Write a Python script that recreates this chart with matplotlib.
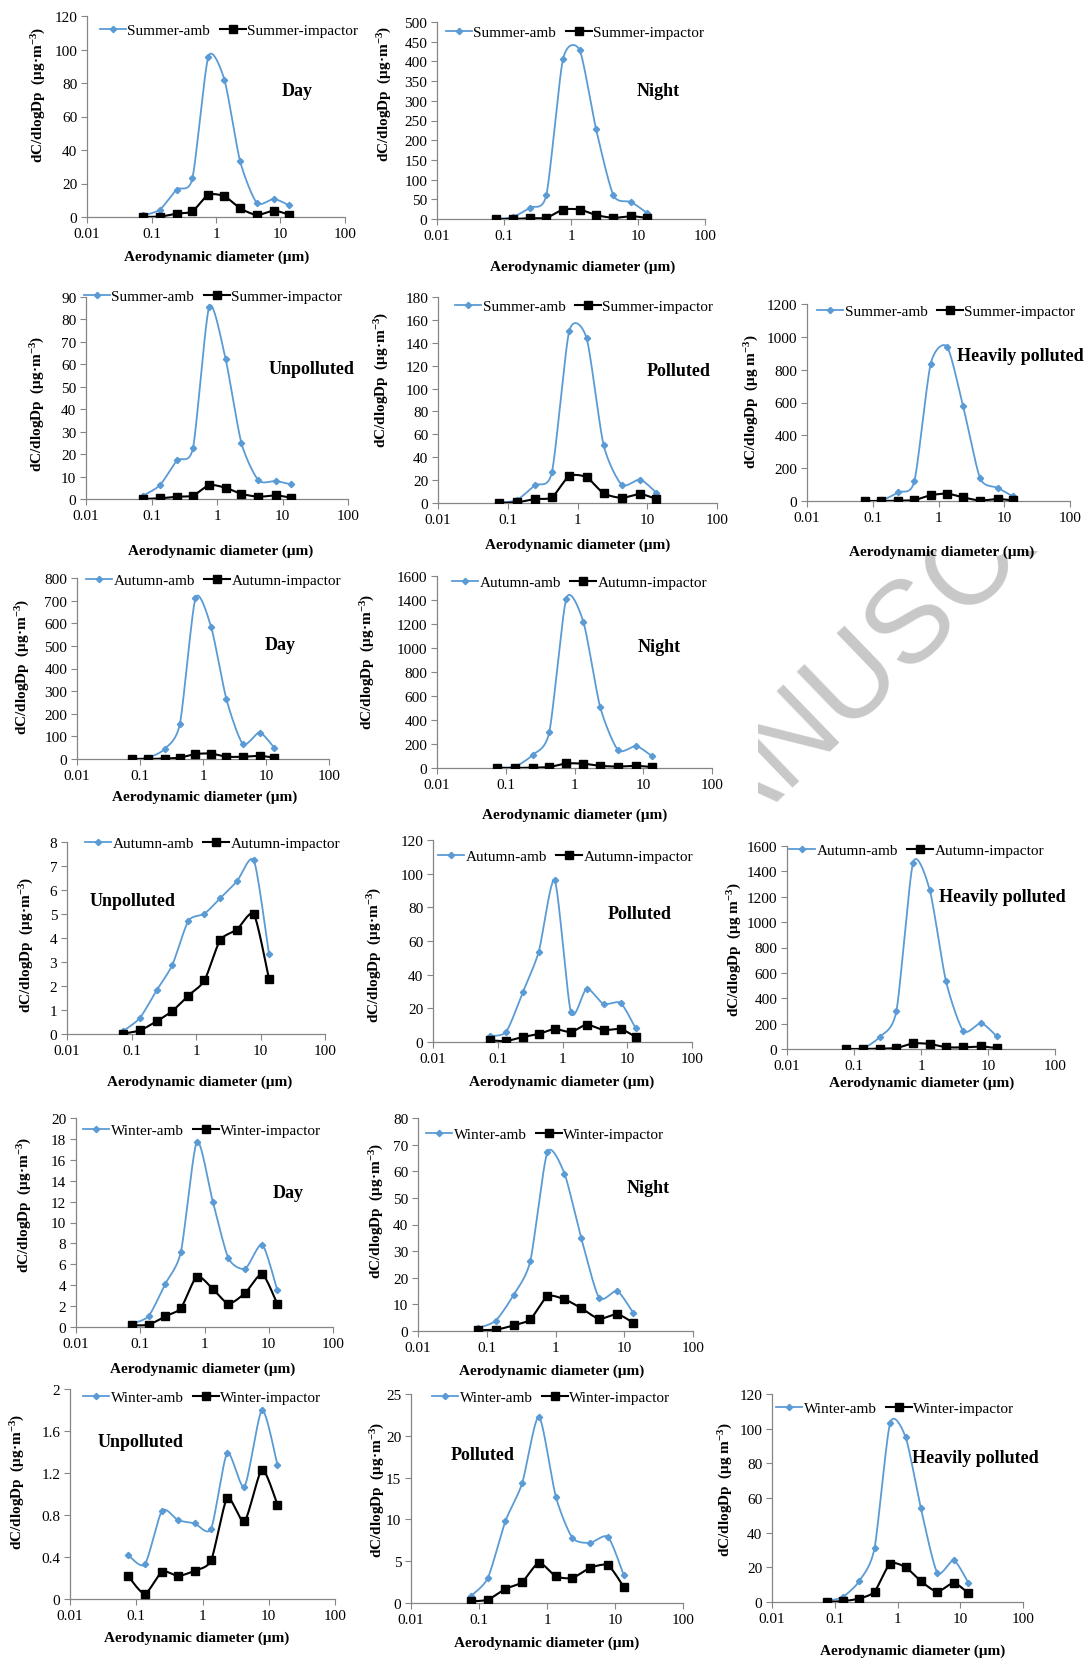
import numpy as np
import matplotlib.pyplot as plt
from matplotlib.ticker import FixedLocator, FuncFormatter

plt.rcParams['font.family'] = ['Liberation Serif', 'DejaVu Serif']
plt.rcParams['mathtext.fontset'] = 'custom'
plt.rcParams['mathtext.rm'] = 'Liberation Serif:bold'
plt.rcParams['mathtext.it'] = 'Liberation Serif:bold:italic'
plt.rcParams['mathtext.bf'] = 'Liberation Serif:bold'

W, H = 1084, 1674
BLUE = '#5b9bd5'

# aerodynamic diameter of each stage (um)
dp = [0.075, 0.135, 0.245, 0.43, 0.76, 1.35, 2.36, 4.3, 7.9, 13.5]

# summer
summer_day_amb = [1.0, 4.4, 16.4, 23, 95.6, 82, 33.4, 8.4, 10.8, 7]
summer_day_imp = [0, 0.2, 2, 3.4, 13.2, 12.4, 5.2, 1.2, 3.8, 1.4]
summer_night_amb = [0, 5, 29, 62, 406, 428, 229, 60, 43, 16]
summer_night_imp = [0, 0, 2, 3, 24, 24, 10, 3, 7, 3]
summer_unpol_amb = [1.5, 6.2, 17.2, 22.8, 85.7, 62.5, 24.9, 8.3, 8, 6.5]
summer_unpol_imp = [0, 0.3, 1, 1.5, 6.2, 5, 2.3, 1, 1.6, 0.6]
summer_pol_amb = [0.3, 2.6, 15.5, 27, 150, 144, 51, 16, 20.5, 9]
summer_pol_imp = [0, 0.5, 3.5, 5, 23.5, 22.5, 8.5, 4.5, 7.8, 3.5]
summer_heavy_amb = [0, 4, 53, 122, 835, 940, 580, 138, 81, 28]
summer_heavy_imp = [0, 0, 2, 6, 35, 45, 22, 3, 12, 4]

# autumn
autumn_day_amb = [0, 6, 44, 156, 711, 582, 263, 66, 117, 50]
autumn_day_imp = [0, 0, 2, 6, 22, 24, 10, 10, 14, 6]
autumn_night_amb = [5, 11, 108, 299, 1412, 1215, 509, 149, 183, 97]
autumn_night_imp = [0, 0, 3, 8, 38, 36, 18, 12, 18, 8]
autumn_unpol_amb = [0.13, 0.67, 1.82, 2.88, 4.71, 5.01, 5.65, 6.36, 7.23, 3.35]
autumn_unpol_imp = [0.02, 0.15, 0.53, 0.96, 1.6, 2.23, 3.9, 4.35, 4.98, 2.31]
autumn_pol_amb = [3.6, 6.1, 29.7, 53.7, 96, 17.6, 31.7, 22.6, 23.2, 8.1]
autumn_pol_imp = [1, 0.6, 3, 4.8, 7.7, 5.9, 10.3, 7.1, 7.7, 3]
autumn_heavy_amb = [0, 5, 97, 301, 1466, 1254, 534, 141, 204, 100]
autumn_heavy_imp = [0, 0, 3, 8, 44, 40, 14, 13, 20, 7]

# winter
winter_day_amb = [0.32, 1.05, 4.12, 7.22, 17.73, 11.98, 6.58, 5.59, 7.89, 3.58]
winter_day_imp = [0.16, 0.22, 1.02, 1.82, 4.82, 3.64, 2.24, 3.26, 5.05, 2.24]
winter_night_amb = [1.1, 3.9, 13.5, 26.3, 67.1, 59.1, 35, 12.5, 15, 6.8]
winter_night_imp = [0.4, 0.5, 2.1, 4.4, 13, 11.9, 8.6, 4.6, 6.3, 3.1]
winter_unpol_amb = [0.42, 0.33, 0.84, 0.75, 0.72, 0.67, 1.39, 1.07, 1.8, 1.28]
winter_unpol_imp = [0.22, 0.05, 0.26, 0.22, 0.27, 0.37, 0.96, 0.74, 1.23, 0.9]
winter_pol_amb = [0.8, 3, 9.8, 14.3, 22.3, 12.7, 7.8, 7.2, 7.9, 3.3]
winter_pol_imp = [0.2, 0.4, 1.7, 2.5, 4.8, 3.2, 3.0, 4.2, 4.5, 1.9]
winter_heavy_amb = [0.5, 3, 12, 31, 103, 95, 54, 17, 24, 11]
winter_heavy_imp = [0, 0.5, 2, 6, 22, 20, 12, 6, 11, 5]

panels = [
    ('Summer', 'Day', summer_day_amb, summer_day_imp, 120, 20),
    ('Summer', 'Night', summer_night_amb, summer_night_imp, 500, 50),
    ('Summer', 'Unpolluted', summer_unpol_amb, summer_unpol_imp, 90, 10),
    ('Summer', 'Polluted', summer_pol_amb, summer_pol_imp, 180, 20),
    ('Summer', 'Heavily polluted', summer_heavy_amb, summer_heavy_imp, 1200, 200),
    ('Autumn', 'Day', autumn_day_amb, autumn_day_imp, 800, 100),
    ('Autumn', 'Night', autumn_night_amb, autumn_night_imp, 1600, 200),
    ('Autumn', 'Unpolluted', autumn_unpol_amb, autumn_unpol_imp, 8, 1),
    ('Autumn', 'Polluted', autumn_pol_amb, autumn_pol_imp, 120, 20),
    ('Autumn', 'Heavily polluted', autumn_heavy_amb, autumn_heavy_imp, 1600, 200),
    ('Winter', 'Day', winter_day_amb, winter_day_imp, 20, 2),
    ('Winter', 'Night', winter_night_amb, winter_night_imp, 80, 10),
    ('Winter', 'Unpolluted', winter_unpol_amb, winter_unpol_imp, 2, 0.4),
    ('Winter', 'Polluted', winter_pol_amb, winter_pol_imp, 25, 5),
    ('Winter', 'Heavily polluted', winter_heavy_amb, winter_heavy_imp, 120, 20),
]

# pixel layout: axes box (l, t, r, b), ylabel centre, xlabel centre, legend start, note centre
layout = [
    ((87, 17, 345, 218), (39, 95), (217, 257), (100, 31), (297, 91)),
    ((437, 23, 705, 220), (385, 94), (583, 267), (446, 33), (658, 91)),
    ((86, 298, 348, 500), (38, 404), (221, 551), (84, 297), (312, 369)),
    ((438, 298, 717, 504), (382, 380), (578, 545), (455, 307), (679, 371)),
    ((807, 305, 1070, 502), (752, 402), (942, 552), (817, 312), (1020, 357)),
    ((77, 579, 329, 760), (23, 667), (205, 797), (86, 581), (280, 646)),
    ((437, 577, 712, 769), (368, 662), (575, 815), (452, 583), (659, 647)),
    ((67, 843, 325, 1035), (27, 945), (200, 1082), (85, 844), (133, 902)),
    ((433, 841, 692, 1043), (375, 955), (562, 1082), (438, 857), (640, 915)),
    ((787, 847, 1055, 1050), (735, 950), (922, 1083), (789, 851), (1002, 898)),
    ((76, 1119, 333, 1328), (25, 1205), (203, 1369), (83, 1131), (288, 1193)),
    ((418, 1119, 693, 1332), (377, 1211), (552, 1371), (426, 1135), (648, 1189)),
    ((70, 1390, 335, 1600), (18, 1482), (197, 1638), (83, 1398), (141, 1443)),
    ((411, 1395, 683, 1604), (378, 1490), (547, 1643), (432, 1398), (483, 1455)),
    ((772, 1395, 1023, 1603), (726, 1490), (913, 1651), (776, 1409), (975, 1459)),
]


def smooth(x, y, n=24, k=8.5):
    # Excel style smoothed line: bezier through points, tangents from neighbours
    lx = np.log10(np.asarray(x, float))
    y = np.asarray(y, float)
    P = np.column_stack([lx, y])
    t = np.linspace(0, 1, n)[:, None]
    out = []
    for i in range(len(P) - 1):
        p0, p3 = P[i], P[i + 1]
        prev = P[i - 1] if i > 0 else p0
        nxt = P[i + 2] if i + 2 < len(P) else p3
        c1 = p0 + (p3 - prev) / k
        c2 = p3 - (nxt - p0) / k
        seg = (1 - t) ** 3 * p0 + 3 * (1 - t) ** 2 * t * c1 + 3 * (1 - t) * t ** 2 * c2 + t ** 3 * p3
        out.append(seg if i == 0 else seg[1:])
    out = np.vstack(out)
    return 10 ** out[:, 0], out[:, 1]


def fx(px):
    return px / W


def fy(py):
    return 1 - py / H


fig = plt.figure(figsize=(W / 100, H / 100), dpi=100)

# faint watermark, only visible in the gap on the right
wm = fig.text(fx(676), fy(858), 'ACCEPTED MANUSCRIPT', rotation=44, ha='center', va='center',
              rotation_mode='anchor', fontsize=84, color='#c8c8c8', family='Liberation Sans', zorder=0)
clip = plt.Rectangle((fx(758), fy(832)), (1084 - 758) / W, (832 - 552) / H, transform=fig.transFigure)
wm.set_clip_path(clip)

for (season, note, amb, imp, ymax, ystep), (box, ylab, xlab, leg, notepos) in zip(panels, layout):
    l, t, r, b = box
    ax = fig.add_axes([fx(l), fy(b), (r - l) / W, (b - t) / H])
    ax.patch.set_alpha(0)

    sx, sy = smooth(dp, amb)
    ax.plot(sx, sy, color=BLUE, lw=1.3, zorder=3)
    ax.plot(dp, amb, 'D', color=BLUE, ms=3.2, zorder=4)
    h1, = ax.plot([], [], color=BLUE, lw=1.3, marker='D', ms=3.2)

    sx, sy = smooth(dp, imp)
    ax.plot(sx, sy, color='black', lw=1.5, zorder=5)
    ax.plot(dp, imp, 's', color='black', ms=5.5, zorder=6)
    h2, = ax.plot([], [], color='black', lw=1.5, marker='s', ms=5.5)

    ax.set_xscale('log')
    ax.set_xlim(0.01, 100)
    ax.set_ylim(0, ymax)
    ax.xaxis.set_major_locator(FixedLocator([0.01, 0.1, 1, 10, 100]))
    ax.xaxis.set_minor_locator(FixedLocator([]))
    ax.xaxis.set_major_formatter(FuncFormatter(lambda v, p: '%g' % v))
    ax.yaxis.set_major_locator(FixedLocator(np.arange(0, ymax + ystep / 2, ystep)))
    ax.yaxis.set_major_formatter(FuncFormatter(lambda v, p: '%g' % round(v, 3)))
    for s in ['top', 'right']:
        ax.spines[s].set_visible(False)
    for s in ['left', 'bottom']:
        ax.spines[s].set_color('#868686')
        ax.spines[s].set_linewidth(0.9)
    ax.tick_params(direction='out', length=4, width=0.8, color='#868686', labelsize=11, pad=3)

    unit = r'(μg m$^{-3}$)' if note == 'Heavily polluted' else r'(μg·m$^{-3}$)'
    fig.text(fx(ylab[0]), fy(ylab[1]), 'dC/dlogDp  ' + unit, rotation=90, ha='center', va='center',
             fontsize=11, fontweight='bold')
    fig.text(fx(xlab[0]), fy(xlab[1]), 'Aerodynamic diameter (μm)', ha='center', va='center',
             fontsize=11, fontweight='bold')
    fig.text(fx(notepos[0]), fy(notepos[1]), note, ha='center', va='center', fontsize=13, fontweight='bold')

    ax.legend([h1, h2], [season + '-amb', season + '-impactor'], loc='center left',
              bbox_to_anchor=(fx(leg[0]), fy(leg[1])), bbox_transform=fig.transFigure,
              ncol=2, frameon=False, fontsize=11, handlelength=1.7, handletextpad=0.1,
              columnspacing=0.6, borderpad=0, borderaxespad=0)

fig.savefig('out.png', dpi=100)
